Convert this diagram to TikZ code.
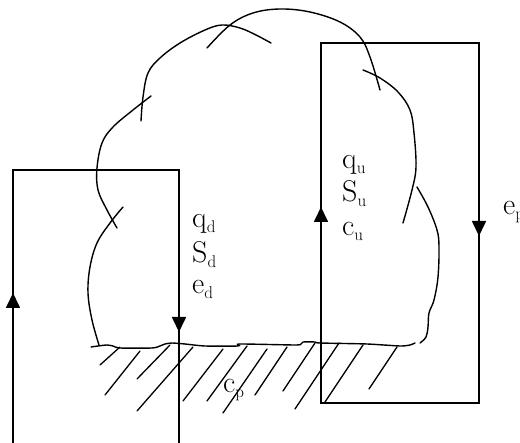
\documentclass[tikz,border=0pt]{standalone}
\usetikzlibrary{arrows.meta}
% letter with a lowered, smaller upright index
\newcommand{\idx}[2]{#1\raisebox{-5pt}{\fontsize{17}{17}\selectfont #2}}
\begin{document}
\begin{tikzpicture}[x=1pt,y=-1pt,
  frame/.style={line width=1.7pt},
  flowtip/.style={line width=1.7pt,-{Triangle[width=14pt,length=15pt]}},
  rim/.style={line width=1.4pt,line cap=round},
  hatch/.style={line width=1.3pt,line cap=round},
  lbl/.style={anchor=base west,inner sep=0pt,font=\fontsize{30}{34}\selectfont}]
\useasboundingbox (0,0) rectangle (520,443);
\clip (0,0) rectangle (520,443);

% ---- cloud outline, drawn as overlapping strokes ----
\draw[rim] plot[smooth,tension=0.6] coordinates {(99,345) (92,320) (88,293) (90,267) (97,243) (110,223) (123,207)};
\draw[rim] plot[smooth,tension=0.6] coordinates {(117,228) (107,210) (98,190) (97,168) (102,143) (113,127) (133,110) (151,96)};
\draw[rim] plot[smooth,tension=0.6] coordinates {(141,121) (143,97) (148,73) (160,58) (180,43) (205,30) (222,25) (240,28) (256,35) (271,43)};
\draw[rim] plot[smooth,tension=0.6] coordinates {(207,48) (230,25) (253,13) (280,9) (310,12) (340,22) (360,37) (370,57) (380,90)};
\draw[rim] plot[smooth,tension=0.6] coordinates {(363,70) (380,78) (398,92) (410,110) (414,133) (416,167) (412,190) (403,223)};
\draw[rim] plot[smooth,tension=0.6] coordinates {(417,187) (428,207) (437,230) (439,247) (438,277) (434,300) (429,313) (428,327) (426,337) (420,343)};

% ---- ground surface ----
\draw[rim] plot[smooth,tension=0.4] coordinates {(91,347) (98,346) (107,345) (113,346) (120,348) (152,348) (160,346) (165,344) (172,343) (185,344) (205,346) (238,346) (240,344) (295,345) (301,344) (303,342) (315,342) (320,343) (367,344) (400,346) (410,345) (415,343)};

% ---- hatching below the surface ----
\foreach \xa/\ya/\xb/\yb in {100/365/120/347, 105/395/140/351, 137/379/170/345,
  137/411/193/347, 183/401/223/349, 207/401/247/346, 223/413/267/349,
  255/395/287/347, 283/391/315/343, 295/409/339/343, 325/402/363/345,
  369/389/397/347}
  \draw[hatch] (\xa,\ya) -- (\xb,\yb);

% ---- downward loop (left) ----
\coordinate (la) at (13,443);
\coordinate (lb) at (13,170);
\coordinate (lc) at (179,170);
\coordinate (ld) at (179,443);
\coordinate (lup) at (13,293);
\coordinate (ldn) at (179,332);
\draw[frame] (la) -- (lb) -- (lc) -- (ld);
\draw[flowtip] (la) -- (lup);
\draw[flowtip] (lc) -- (ldn);

% ---- upward loop (right) ----
\coordinate (ra) at (321,403);
\coordinate (rb) at (321,43);
\coordinate (rc) at (479,43);
\coordinate (rd) at (479,403);
\coordinate (rup) at (321,207);
\coordinate (rdn) at (479,236);
\draw[frame] (ra) -- (rb) -- (rc) -- (rd) -- cycle;
\draw[flowtip] (ra) -- (rup);
\draw[flowtip] (rc) -- (rdn);

% ---- labels ----
\node[lbl] (qd) at (192,228) {\idx{q}{d}};
\node[lbl] (Sd) at (192,263) {\idx{S}{d}};
\node[lbl] (ed) at (192,294) {\idx{e}{d}};
\node[lbl] (qu) at (342,169) {\idx{q}{u}};
\node[lbl] (Su) at (342,202) {\idx{S}{u}};
\node[lbl] (cu) at (342,236) {\idx{c}{u}};
\node[lbl] (ep) at (503,215) {\idx{e}{p}};
\node[lbl] (cp) at (223,393) {\idx{c}{p}};
\end{tikzpicture}
\end{document}
